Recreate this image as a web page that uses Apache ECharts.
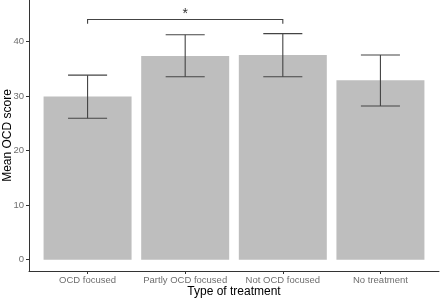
<!DOCTYPE html>
<html><head><meta charset="utf-8">
<script src="https://cdn.jsdelivr.net/npm/echarts@6/dist/echarts.min.js"></script>
<style>html,body{margin:0;padding:0;background:#fff}#c{width:440px;height:300px}</style>
</head><body><div id="c"></div>
<script>
const categories = ['OCD focused', 'Partly OCD focused', 'Not OCD focused', 'No treatment'];
const means = [29.9, 37.3, 37.5, 32.85];
const errLow = [25.9, 33.5, 33.5, 28.15];
const errHigh = [33.8, 41.2, 41.4, 37.5];
const yTicks = [0, 10, 20, 30, 40];
const bracketX = [1, 3];
const bracketY = [43.2, 44.0];
const bracketLabel = '*';

const positions = categories.map((c, i) => i + 1);
const chart = echarts.init(document.getElementById('c'));
const font = 'Liberation Sans, Arial, sans-serif';

chart.setOption({
  animation: false,
  grid: { left: 29, right: 1, top: 0, bottom: 29, containLabel: false, outerBoundsMode: 'none' },
  xAxis: {
    type: 'value', min: 0.4, max: 4.6,
    name: 'Type of treatment', nameLocation: 'middle', nameGap: 15, nameMoveOverlap: false,
    nameTextStyle: { color: '#000', fontSize: 12, fontFamily: font },
    axisLine: { onZero: false, lineStyle: { color: '#333', width: 1 } },
    axisTick: { show: true, customValues: positions, length: 3, lineStyle: { color: '#333' } },
    axisLabel: { customValues: positions, formatter: v => categories[Math.round(v) - 1] || '',
      color: '#6e6e6e', fontSize: 9.5, fontFamily: font, margin: 4 },
    splitLine: { show: false }
  },
  yAxis: {
    type: 'value', min: -2.07, max: 47.56,
    name: 'Mean OCD score', nameLocation: 'middle', nameGap: 15, nameRotate: 90, nameMoveOverlap: false,
    nameTextStyle: { color: '#000', fontSize: 12, fontFamily: font },
    axisLine: { show: true, onZero: false, lineStyle: { color: '#333', width: 1 } },
    axisTick: { show: true, customValues: yTicks, length: 3, lineStyle: { color: '#333' } },
    axisLabel: { customValues: yTicks, color: '#6e6e6e', fontSize: 9.5, fontFamily: font, margin: 5 },
    splitLine: { show: false }
  },
  series: [
    {
      type: 'bar', barWidth: 88, z: 1,
      data: positions.map((p, i) => [p, means[i]]),
      itemStyle: { color: '#bebebe' }, silent: true
    },
    {
      type: 'custom', z: 5,
      data: positions.map((p, i) => [p, errLow[i], errHigh[i]]),
      renderItem: function (params, api) {
        const x = api.value(0);
        const lo = api.coord([x, api.value(1)]);
        const hi = api.coord([x, api.value(2)]);
        const l = api.coord([x - 0.2, api.value(1)])[0];
        const r = api.coord([x + 0.2, api.value(1)])[0];
        const st = { stroke: '#444', lineWidth: 1.1 };
        return { type: 'group', children: [
          { type: 'line', shape: { x1: lo[0], y1: lo[1], x2: hi[0], y2: hi[1] }, style: st },
          { type: 'line', shape: { x1: l, y1: lo[1], x2: r, y2: lo[1] }, style: st },
          { type: 'line', shape: { x1: l, y1: hi[1], x2: r, y2: hi[1] }, style: st }
        ]};
      }, silent: true
    },
    {
      type: 'custom', z: 5,
      data: [[bracketX[0], bracketX[1], bracketY[0], bracketY[1]]],
      renderItem: function (params, api) {
        const a = api.coord([api.value(0), api.value(2)]);
        const b = api.coord([api.value(0), api.value(3)]);
        const c = api.coord([api.value(1), api.value(3)]);
        const d = api.coord([api.value(1), api.value(2)]);
        const mid = api.coord([(api.value(0) + api.value(1)) / 2, api.value(3)]);
        return { type: 'group', children: [
          { type: 'polyline', shape: { points: [a, b, c, d] }, style: { stroke: '#444', lineWidth: 1.1, fill: null } },
          { type: 'text', x: mid[0], y: mid[1] + 2, style: { text: bracketLabel, fill: '#333', fontSize: 14,
            fontFamily: font, align: 'center', verticalAlign: 'bottom' } }
        ]};
      }, silent: true
    }
  ]
});
</script></body></html>
